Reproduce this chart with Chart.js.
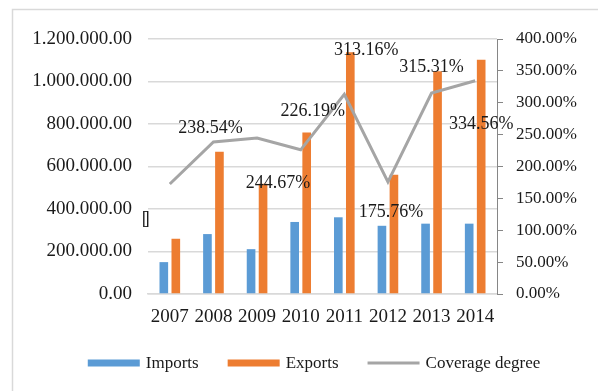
<!DOCTYPE html>
<html>
<head>
<meta charset="utf-8">
<script src="https://cdn.jsdelivr.net/npm/chart.js@4.4.1/dist/chart.umd.min.js"></script>
<style>
html,body{margin:0;padding:0;background:#fff;}
#wrap{width:598px;height:391px;position:relative;}
</style>
</head>
<body>
<div id="wrap"><canvas id="c" width="598" height="391"></canvas></div>
<script>
const years = ['2007','2008','2009','2010','2011','2012','2013','2014'];
const imports = [150000, 282000, 211000, 339000, 361000, 321000, 331000, 331000];
const exports = [260000, 670000, 519000, 760000, 1138000, 561000, 1048000, 1102000];
const coverage = [172.5, 238.54, 244.67, 226.19, 313.16, 175.76, 315.31, 334.56];
const coverageLabels = ['[]', '238.54%', '244.67%', '226.19%', '313.16%', '175.76%', '315.31%', '334.56%'];
const leftTickLabels = ['0.00','200.000.00','400.000.00','600.000.00','800.000.00','1.000.000.00','1.200.000.00'];
const rightTickLabels = ['0.00%','50.00%','100.00%','150.00%','200.00%','250.00%','300.00%','350.00%','400.00%'];
const seriesNames = ['Imports','Exports','Coverage degree'];

const SERIF = '"Liberation Serif","Times New Roman",serif';
const TXT = '#1a1a1a';

const frame = {
  id: 'frame',
  beforeDraw(chart) {
    const ctx = chart.ctx;
    ctx.save();
    ctx.strokeStyle = '#d9d9d9';
    ctx.lineWidth = 1.5;
    ctx.beginPath();
    ctx.moveTo(12.5, chart.height);
    ctx.lineTo(12.5, 9.5);
    ctx.lineTo(chart.width, 9.5);
    ctx.stroke();
    ctx.restore();
  }
};

const pointLabels = {
  id: 'pointLabels',
  afterDatasetsDraw(chart, args, opts) {
    const ctx = chart.ctx;
    const meta = chart.getDatasetMeta(2);
    ctx.save();
    ctx.font = '18px ' + SERIF;
    ctx.fillStyle = TXT;
    ctx.textAlign = 'center';
    ctx.textBaseline = 'middle';
    meta.data.forEach((pt, i) => {
      const off = opts.offsets[i];
      ctx.letterSpacing = coverageLabels[i] === '[]' ? '-4px' : '0px';
      ctx.fillText(coverageLabels[i], pt.x + off[0], pt.y + off[1]);
    });
    ctx.restore();
  }
};

const customLegend = {
  id: 'customLegend',
  afterDraw(chart, args, opts) {
    const ctx = chart.ctx;
    ctx.save();
    ctx.font = '17px ' + SERIF;
    const items = chart.data.datasets.map(ds => ({
      text: ds.label,
      color: ds.type === 'line' ? ds.borderColor : ds.backgroundColor,
      h: ds.type === 'line' ? 3 : 7,
      w: ctx.measureText(ds.label).width
    }));
    const sw = 52, gapT = 6, gapI = 29;
    let total = 0;
    items.forEach((it, i) => { total += sw + gapT + it.w + (i < items.length - 1 ? gapI : 0); });
    let x = opts.centerX - total / 2;
    const y = opts.y;
    ctx.textBaseline = 'middle';
    ctx.textAlign = 'left';
    items.forEach(it => {
      ctx.fillStyle = it.color;
      ctx.fillRect(x, y - it.h / 2, sw, it.h);
      ctx.fillStyle = TXT;
      ctx.fillText(it.text, x + sw + gapT, y + 1);
      x += sw + gapT + it.w + gapI;
    });
    ctx.restore();
  }
};

new Chart(document.getElementById('c'), {
  data: {
    labels: years,
    datasets: [
      { type: 'bar', label: seriesNames[0], data: imports, backgroundColor: '#5b9bd5', yAxisID: 'y', order: 2,
        categoryPercentage: 0.55, barPercentage: 0.72 },
      { type: 'bar', label: seriesNames[1], data: exports, backgroundColor: '#ed7d31', yAxisID: 'y', order: 2,
        categoryPercentage: 0.55, barPercentage: 0.72 },
      { type: 'line', label: seriesNames[2], data: coverage, borderColor: '#a5a5a5', backgroundColor: '#a5a5a5',
        borderWidth: 3, pointRadius: 0, tension: 0, yAxisID: 'y2', order: 1 }
    ]
  },
  options: {
    responsive: false,
    animation: false,
    layout: { padding: { top: 39, left: 0, right: 0, bottom: 0 } },
    plugins: {
      legend: { display: false },
      tooltip: { enabled: false },
      pointLabels: { offsets: [[-26,35],[-3,-14],[21,45],[12,-39],[22,-44],[3,30],[0,-26],[6,44]] },
      customLegend: { centerX: 314, y: 363 }
    },
    scales: {
      x: {
        offset: true,
        grid: { display: false, drawTicks: false },
        border: { display: true, color: '#d9d9d9', width: 1.5 },
        ticks: { font: { family: SERIF, size: 19 }, color: TXT, padding: 12, maxRotation: 0, autoSkip: false },
        afterFit(s) { s.height = 97; }
      },
      y: {
        position: 'left',
        min: 0, max: 1200000,
        ticks: { stepSize: 200000, font: { family: SERIF, size: 19 }, color: TXT, padding: 16,
          callback: (v, i) => leftTickLabels[i] },
        grid: { color: '#d9d9d9', lineWidth: 1.5, drawTicks: false },
        border: { display: false },
        afterFit(s) { s.width = 148; }
      },
      y2: {
        position: 'right',
        min: 0, max: 400,
        ticks: { stepSize: 50, font: { family: SERIF, size: 17 }, color: TXT, padding: 13,
          callback: (v, i) => rightTickLabels[i] },
        grid: { drawOnChartArea: false, drawTicks: true, tickLength: 6, color: '#868686', lineWidth: 1 },
        border: { display: true, color: '#868686', width: 1 },
        afterFit(s) { s.width = 101; }
      }
    }
  },
  plugins: [frame, pointLabels, customLegend]
});
</script>
</body>
</html>
